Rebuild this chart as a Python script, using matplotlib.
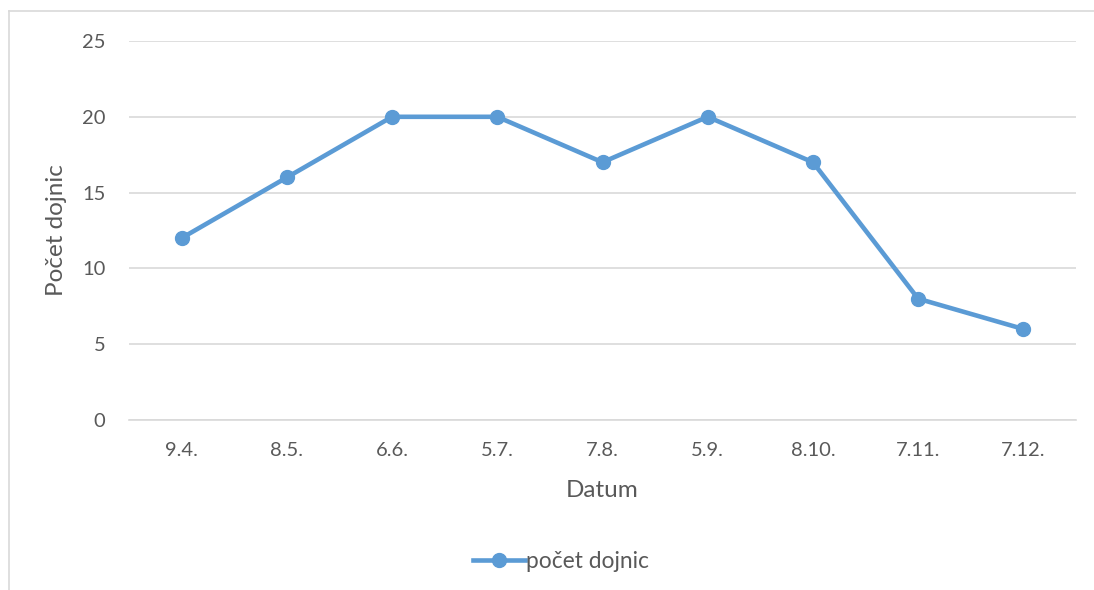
import matplotlib.pyplot as plt
from matplotlib.lines import Line2D

datum = ['9.4.', '8.5.', '6.6.', '5.7.', '7.8.', '5.9.', '8.10.', '7.11.', '7.12.']
pocet_dojnic = [12, 16, 20, 20, 17, 20, 17, 8, 6]

W, H = 1094, 590
plt.rcParams['font.family'] = ['Lato', 'DejaVu Sans']
txt = '#595959'
grid = '#D9D9D9'
modra = '#5B9BD5'

fig = plt.figure(figsize=(W / 100, H / 100), dpi=100)
fig.patch.set_facecolor('white')

# okraj oblasti grafu
fig.add_artist(Line2D([9 / W, 1], [1 - 11 / H, 1 - 11 / H], color=grid, lw=1.2, transform=fig.transFigure))
fig.add_artist(Line2D([9 / W, 9 / W], [0, 1 - 11 / H], color=grid, lw=1.2, transform=fig.transFigure))

ax = fig.add_axes([129 / W, 1 - 420 / H, (1076 - 129) / W, (420 - 41) / H])
x = range(len(datum))
ax.plot(x, pocet_dojnic, color=modra, lw=3.3, marker='o', markersize=10,
        label='počet dojnic', solid_joinstyle='round', zorder=3)

ax.set_xlim(-0.5, len(datum) - 0.5)
ax.set_ylim(0, 25)
ax.set_yticks(range(0, 26, 5))
ax.set_xticks(list(x))
ax.set_xticklabels(datum)
ax.yaxis.grid(True, color=grid, lw=1.2)
ax.set_axisbelow(True)
for s in ['top', 'right', 'left']:
    ax.spines[s].set_visible(False)
ax.spines['bottom'].set_color(grid)
ax.spines['bottom'].set_linewidth(1.2)
ax.tick_params(length=0, colors=txt, labelsize=14.5)
ax.tick_params(axis='y', pad=17)
ax.tick_params(axis='x', pad=16)

ax.set_xlabel('Datum', color=txt, fontsize=17.5, labelpad=15)
ax.set_ylabel('Počet dojnic', color=txt, fontsize=17.5, labelpad=11)

fig.legend(loc='center', bbox_to_anchor=(561 / W, 1 - 561 / H), frameon=False,
           fontsize=16.4, labelcolor=txt, handlelength=2.3, handletextpad=0.05)

fig.savefig('out.png', dpi=100)
